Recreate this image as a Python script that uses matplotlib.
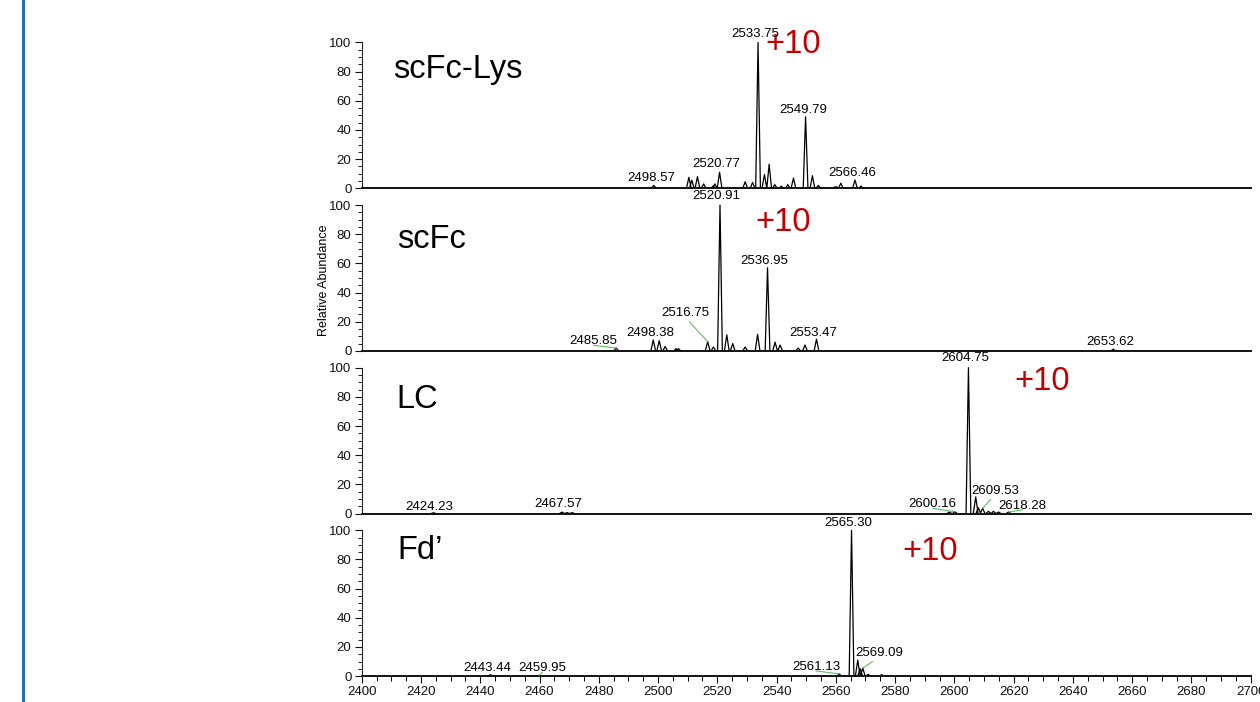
import numpy as np
import matplotlib
matplotlib.use("Agg")
import matplotlib.pyplot as plt
from matplotlib.lines import Line2D
from matplotlib.ticker import FixedLocator, MultipleLocator

plt.rcParams['font.family'] = ['Liberation Sans', 'DejaVu Sans']

# ---------------- data ----------------
panel_names = ["scFc-Lys", "scFc", "LC", "Fd\u2019"]
charge_state = "+10"
y_label = "Relative Abundance"

# centroided peaks (m/z, relative abundance %)
lys_mz = [2498.57, 2510.4, 2511.4, 2513.3, 2515.4, 2518.6, 2519.2, 2520.77,
          2529.4, 2531.9, 2533.75, 2535.9, 2537.5, 2539.4, 2541.6, 2543.8,
          2545.7, 2549.79, 2552.1, 2554.1, 2559.7, 2560.3, 2561.7, 2566.46,
          2568.5]
lys_int = [2.0, 7.5, 5.5, 8.0, 3.0, 1.5, 3.0, 11.0,
           4.5, 4.0, 100.0, 9.5, 16.5, 2.5, 1.5, 2.5,
           7.0, 49.0, 8.7, 2.0, 1.0, 1.0, 3.5, 5.7,
           1.5]

scfc_mz = [2485.85, 2498.38, 2500.4, 2502.4, 2506.1, 2506.9, 2516.75, 2518.7,
           2520.91, 2523.2, 2525.2, 2529.4, 2533.6, 2536.95, 2539.5, 2541.2,
           2547.3, 2549.6, 2553.47, 2653.62]
scfc_int = [2.0, 7.5, 7.0, 3.0, 1.5, 1.5, 6.4, 2.7,
            100.0, 11.0, 5.0, 2.7, 11.4, 57.0, 6.0, 4.0,
            2.0, 4.0, 8.0, 1.2]

lc_mz = [2424.23, 2467.57, 2469.3, 2471.0, 2598.3, 2600.16, 2604.75, 2607.2,
         2608.1, 2609.53, 2611.5, 2613.2, 2614.9, 2618.28]
lc_int = [0.5, 1.0, 0.6, 0.6, 1.0, 1.2, 100.0, 11.4,
          4.0, 3.6, 1.5, 1.5, 1.0, 1.0]

fd_mz = [2443.44, 2444.6, 2459.95, 2561.13, 2565.30, 2567.4, 2568.2, 2569.09,
         2570.9, 2575.5]
fd_int = [1.0, 0.5, 0.6, 1.5, 100.0, 11.0, 5.0, 5.5,
          1.2, 1.0]

spectra_mz = [lys_mz, scfc_mz, lc_mz, fd_mz]
spectra_int = [lys_int, scfc_int, lc_int, fd_int]

# labelled peaks per spectrum
lys_labels = [2533.75, 2549.79, 2520.77, 2498.57, 2566.46]
scfc_labels = [2520.91, 2536.95, 2516.75, 2498.38, 2485.85, 2553.47, 2653.62]
lc_labels = [2604.75, 2609.53, 2600.16, 2618.28, 2424.23, 2467.57]
fd_labels = [2565.30, 2569.09, 2561.13, 2443.44, 2459.95]
peak_labels = [lys_labels, scfc_labels, lc_labels, fd_labels]

x_ticks = list(range(2400, 2701, 20))
y_ticks = [0, 20, 40, 60, 80, 100]
y_minor_ticks = [v for v in range(5, 100, 5) if v % 20]

# ---------------- layout ----------------
W, H = 1260, 702
ax_left_px, ax_right_px = 361.7, 1250.7
baselines_px = [188.3, 350.9, 513.5, 676.1]
panel_h_px = 162.6
y_top = 111.5

# label text centres (x in m/z, y in %), and whether a leader line is drawn
label_pos = [
    [(2532.7, 105.8, False), (2549.0, 53.9, False), (2519.6, 17.0, False),
     (2497.6, 7.2, False), (2565.4, 10.7, False)],
    [(2519.8, 106.2, False), (2535.9, 61.6, False), (2509.1, 26.0, True),
     (2497.3, 12.5, False), (2478.2, 6.7, True), (2552.4, 12.5, False),
     (2652.6, 6.1, False)],
    [(2603.6, 106.5, False), (2613.7, 15.6, True), (2592.7, 6.4, True),
     (2622.9, 5.4, True), (2422.9, 4.7, False), (2466.4, 6.5, False)],
    [(2564.2, 105.3, False), (2574.7, 16.0, True), (2553.3, 6.4, True),
     (2442.4, 5.3, False), (2461.0, 5.5, True)],
]
name_pos = [(2410.6, 75.6), (2412.0, 70.6), (2411.6, 72.4), (2412.0, 80.3)]
charge_pos = [(2545.6, 98.4), (2542.3, 88.1), (2629.5, 90.4), (2591.8, 85.3)]

half_width = 0.8
leader_color = '#5cbf5c'
charge_color = '#c00000'
label_size = 9.5

fig = plt.figure(figsize=(W / 100, H / 100), dpi=100)

# vertical rule on the left of the slide
fig.add_artist(Line2D([23 / W, 23 / W], [0, 1], transform=fig.transFigure,
                      color='#2e6bb5', lw=2.2))

for i in range(4):
    b = baselines_px[i]
    ax = fig.add_axes([ax_left_px / W, (H - b) / H,
                       (ax_right_px - ax_left_px) / W, panel_h_px / H])
    ax.patch.set_visible(False)

    mz = np.asarray(spectra_mz[i], dtype=float)
    inten = np.asarray(spectra_int[i], dtype=float)
    xs, ys = [], []
    for c, h in zip(mz, inten):
        xs += [c - half_width, c, c + half_width, np.nan]
        ys += [0.0, h, 0.0, np.nan]
    ax.plot(xs, ys, color='black', lw=0.9)

    ax.set_xlim(2400, 2700)
    ax.set_ylim(0, y_top)

    for s in ('top', 'right'):
        ax.spines[s].set_visible(False)
    ax.spines['left'].set_bounds(0, 100)
    ax.spines['left'].set_linewidth(0.8)
    ax.spines['left'].set_color('#222222')
    ax.spines['bottom'].set_linewidth(1.4)
    ax.spines['bottom'].set_color('#111111')

    ax.set_yticks(y_ticks)
    ax.yaxis.set_minor_locator(FixedLocator(y_minor_ticks))
    ax.tick_params(axis='y', which='major', length=4.8, width=0.8,
                   labelsize=label_size, pad=2.5, colors='#111111')
    ax.tick_params(axis='y', which='minor', length=3.0, width=0.7,
                   colors='#222222')

    if i == 3:
        ax.set_xticks(x_ticks)
        ax.xaxis.set_minor_locator(MultipleLocator(5))
        ax.tick_params(axis='x', which='major', length=4.8, width=0.8,
                       labelsize=label_size, pad=2.5, colors='#111111')
        ax.tick_params(axis='x', which='minor', length=3.3, width=0.7)
    else:
        ax.tick_params(axis='x', which='both', bottom=False, labelbottom=False)

    # spectrum name and charge state
    nx, ny = name_pos[i]
    ax.text(nx, ny, panel_names[i], fontsize=23.5, ha='left', va='baseline',
            color='black')
    cx, cy = charge_pos[i]
    ax.text(cx, cy, charge_state, fontsize=23.5, ha='center', va='center',
            color=charge_color, zorder=5)

    # peak annotations
    lookup = dict(zip(spectra_mz[i], spectra_int[i]))
    for val, (lx, ly, lead) in zip(peak_labels[i], label_pos[i]):
        h = lookup[val]
        if lead:
            ax.annotate(f"{val:.2f}", xy=(val, h), xytext=(lx, ly),
                        textcoords='data', ha='center', va='center',
                        fontsize=label_size, annotation_clip=False, zorder=6,
                        arrowprops=dict(arrowstyle='-', color=leader_color,
                                        lw=0.8, shrinkA=0, shrinkB=0,
                                        relpos=(0.5, 0.15)))
        else:
            ax.text(lx, ly, f"{val:.2f}", ha='center', va='center',
                    fontsize=label_size, zorder=6, clip_on=False)

fig.text(324 / W, 1 - 280 / H, y_label, rotation=90, ha='center',
         va='center', fontsize=9)

fig.savefig("out.png", dpi=100, facecolor='white')
